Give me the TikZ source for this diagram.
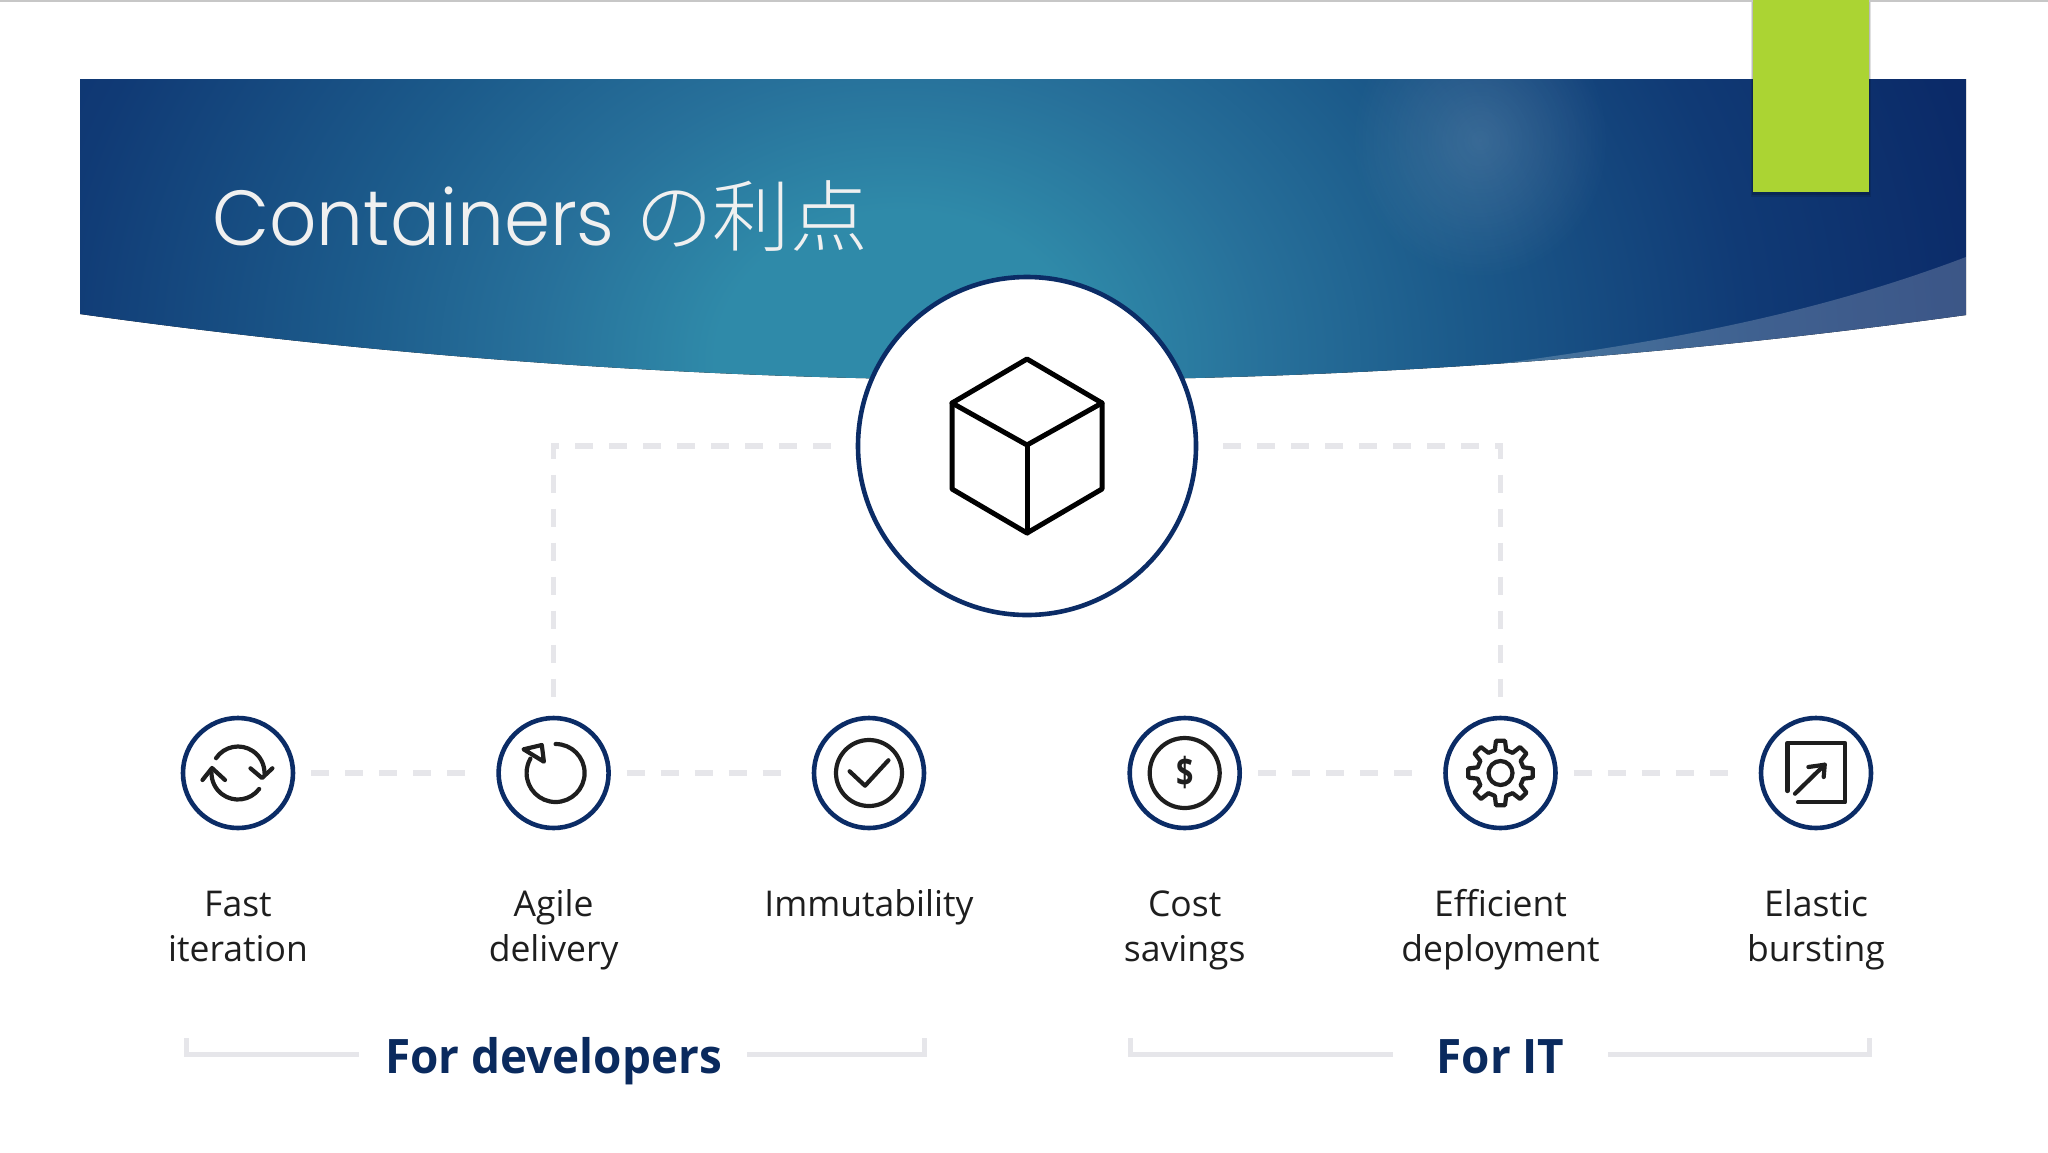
\documentclass[tikz,border=0pt]{standalone}
\usepackage{fontspec}
\usepackage{graphicx}
\usetikzlibrary{fadings,calc}
\setmainfont{Open Sans}
\newfontfamily\titlefont[UprightFont=* Light,FakeStretch=0.95]{Poppins}
\newfontfamily\cjkfont[UprightFont=* Light]{Noto Sans CJK JP}
\newfontfamily\groupfont[FakeStretch=0.965]{Open Sans}
\definecolor{navy}{HTML}{0A2A5E}
\definecolor{ringnavy}{HTML}{0B2C66}
\definecolor{dashgrey}{HTML}{E6E6EA}
\definecolor{inkc}{HTML}{1E1E1E}
\definecolor{limec}{HTML}{ABD433}
\definecolor{gA}{HTML}{2F8AA9}
\definecolor{gB}{HTML}{27709A}
\definecolor{gC}{HTML}{1C5B8B}
\definecolor{gD}{HTML}{103A75}
\definecolor{gE}{HTML}{0B2A68}
\pgfdeclareradialshading{bannerglow}{\pgfpoint{0bp}{0bp}}{color(0bp)=(gA); color(4bp)=(gA); color(8bp)=(gB); color(12bp)=(gC); color(18.5bp)=(gD); color(24bp)=(gE); color(50bp)=(gE)}
\tikzfading[name=glowfade,inner color=transparent!0,outer color=transparent!100]
\tikzset{
  x=1pt,y=1pt,
  ring/.style={circle,draw=ringnavy,fill=white,line width=4.6pt,minimum size=110pt,inner sep=0pt},
  hubring/.style={circle,draw=ringnavy,fill=white,line width=4.6pt,minimum size=338pt,inner sep=0pt},
  dashline/.style={draw=dashgrey,line width=5.5pt,dash pattern=on 18pt off 16pt},
  bracketline/.style={draw=dashgrey,line width=5pt},
  iconline/.style={draw=inkc,line width=4.2pt,line cap=round,line join=round},
  lab/.style={anchor=north,align=center,inner sep=0pt,text=inkc,font=\fontsize{35.5}{45.7}\selectfont},
  grouplab/.style={anchor=base,inner sep=0pt,text=navy,font=\fontsize{47.5}{50}\selectfont\groupfont\bfseries},
}
\begin{document}
\begin{tikzpicture}
\useasboundingbox (0,0) rectangle (2048,-1152);
\fill[white] (0,0) rectangle (2048,-1152);
\fill[black!22] (0,0) rectangle (2048,-1.5);
% banner
\begin{scope}
  \clip (80,-79) -- (1966,-79) -- (1966,-315) .. controls (1337,-402) and (709,-402) .. (80,-314) -- cycle;
  \fill[shading=bannerglow] (-250,-1290) rectangle (2050,570);
  \fill[white,opacity=.14,path fading=glowfade] (1480,-140) ellipse[x radius=130,y radius=140];
  \fill[white,opacity=.2] (1475,-367) .. controls (1640,-345) and (1800,-320) .. (1966,-257) -- (1966,-330) -- (1475,-400) -- cycle;
\end{scope}
% green tab
\fill[black,opacity=.12] (1751,-2) rectangle (1871,-197);
\fill[black,opacity=.16] (1752,-2) rectangle (1870,-195);
\fill[limec] (1753,0) rectangle (1869,-192);
% title
\node[anchor=base west,inner sep=0pt,text=white!94!black,font=\fontsize{78}{80}\selectfont] (title) at (212,-245)
  {\titlefont Containers\ \cjkfont\fontsize{77.7}{80}\selectfont の利点};
% hub and items
\node[hubring] (hub) at (1027,-446) {};
\foreach \n/\x in {c1/238,c2/553.6,c3/869,c4/1184.7,c5/1500.5,c6/1816}{
  \node[ring] (\n) at (\x,-773) {};
}
% connectors
\draw[dashline,shorten <=25pt,shorten >=18pt] (hub.west) -| (c2.north);
\draw[dashline,shorten <=25pt,shorten >=18pt] (hub.east) -| (c5.north);
\draw[dashline,shorten <=16pt,shorten >=16pt] (c1.east) -- (c2.west);
\draw[dashline,shorten <=16pt,shorten >=16pt] (c2.east) -- (c3.west);
\draw[dashline,shorten <=16pt,shorten >=16pt] (c4.east) -- (c5.west);
\draw[dashline,shorten <=16pt,shorten >=16pt] (c5.east) -- (c6.west);
% cube
\begin{scope}[shift={(hub.center)},line width=5pt,line join=round,line cap=round]
  \draw (0,87) -- (75,43) -- (75,-43) -- (0,-87) -- (-75,-43) -- (-75,43) -- cycle;
  \draw (-75,43) -- (0,1) -- (75,43);
  \draw (0,1) -- (0,-87);
\end{scope}
% icon 1
\begin{scope}[shift={(c1.center)}]
  \draw[iconline] (146:26.5) arc[start angle=146,end angle=0,radius=26.5];
  \draw[iconline] (12.5,4.7) -- (24,-5) -- (34.4,4.7);
  \draw[iconline] (-37:26.5) arc[start angle=-37,end angle=-180,radius=26.5];
  \draw[iconline] (-35.5,-7) -- (-26,5) -- (-13,-7);
\end{scope}
% icon 2
\begin{scope}[shift={(c2.center)}]
  \draw[iconline] (2,29) arc[start angle=90,end angle=-210,radius=29];
  \draw[iconline] (-30,23.7) -- (-11.8,28) -- (-9.7,11.3) -- cycle;
\end{scope}
% icon 3
\begin{scope}[shift={(c3.center)}]
  \draw[iconline] (0,0) circle[radius=33];
  \draw[iconline] (-19.4,1.7) -- (-4,-12.7) -- (19.4,12.7);
\end{scope}
% icon 4
\begin{scope}[shift={(c4.center)}]
  \draw[iconline] (0,0) circle[radius=35];
  \node[inner sep=0pt,text=inkc,font=\fontsize{38}{40}\selectfont\bfseries] (dollar) at (0,0) {\scalebox{.8}[1.05]{\$}};
\end{scope}
% icon 5
\begin{scope}[shift={(c5.center)}]
  \draw[iconline]
    (-14:23.5) \foreach \a in {0,45,...,315}{ -- (\a-14:23.5) -- (\a-8:32.5) -- (\a+8:32.5) -- (\a+14:23.5) } -- cycle;
  \draw[iconline] (0,0) circle[radius=12];
\end{scope}
% icon 6
\begin{scope}[shift={(c6.center)}]
  \draw[iconline] (-28.6,-18) -- (-28.6,30) -- (29,30) -- (29,-29.3) -- (-18,-29.3);
  \draw[iconline] (-21,-20.7) -- (8.7,8.3);
  \draw[iconline] (-7.6,6) -- (8.7,8.3) -- (7.7,-4);
\end{scope}
% labels
\node[lab] (l1) at (238,-884) {\rule{0pt}{32pt}Fast\\iteration};
\node[lab] (l2) at (553.6,-884) {\rule{0pt}{32pt}Agile\\delivery};
\node[lab] (l3) at (869,-884) {\rule{0pt}{32pt}Immutability};
\node[lab] (l4) at (1184.7,-884) {\rule{0pt}{32pt}Cost\\savings};
\node[lab] (l5) at (1500.5,-884) {\rule{0pt}{32pt}Efficient\\deployment};
\node[lab] (l6) at (1816,-884) {\rule{0pt}{32pt}Elastic\\bursting};
\node[grouplab] (dev) at (553.6,-1073) {For developers};
\node[grouplab] (it) at (1500.5,-1073) {For IT};
% brackets
\coordinate (dl) at (186,-1038); \coordinate (dle) at (359,-1054);
\coordinate (dr) at (924.5,-1038); \coordinate (dre) at (747,-1054);
\coordinate (il) at (1130,-1038); \coordinate (ile) at (1393,-1054);
\coordinate (ir) at (1869,-1038); \coordinate (ire) at (1608,-1054);
\draw[bracketline] (dl) |- (dle);
\draw[bracketline] (dr) |- (dre);
\draw[bracketline] (il) |- (ile);
\draw[bracketline] (ir) |- (ire);
\end{tikzpicture}
\end{document}
